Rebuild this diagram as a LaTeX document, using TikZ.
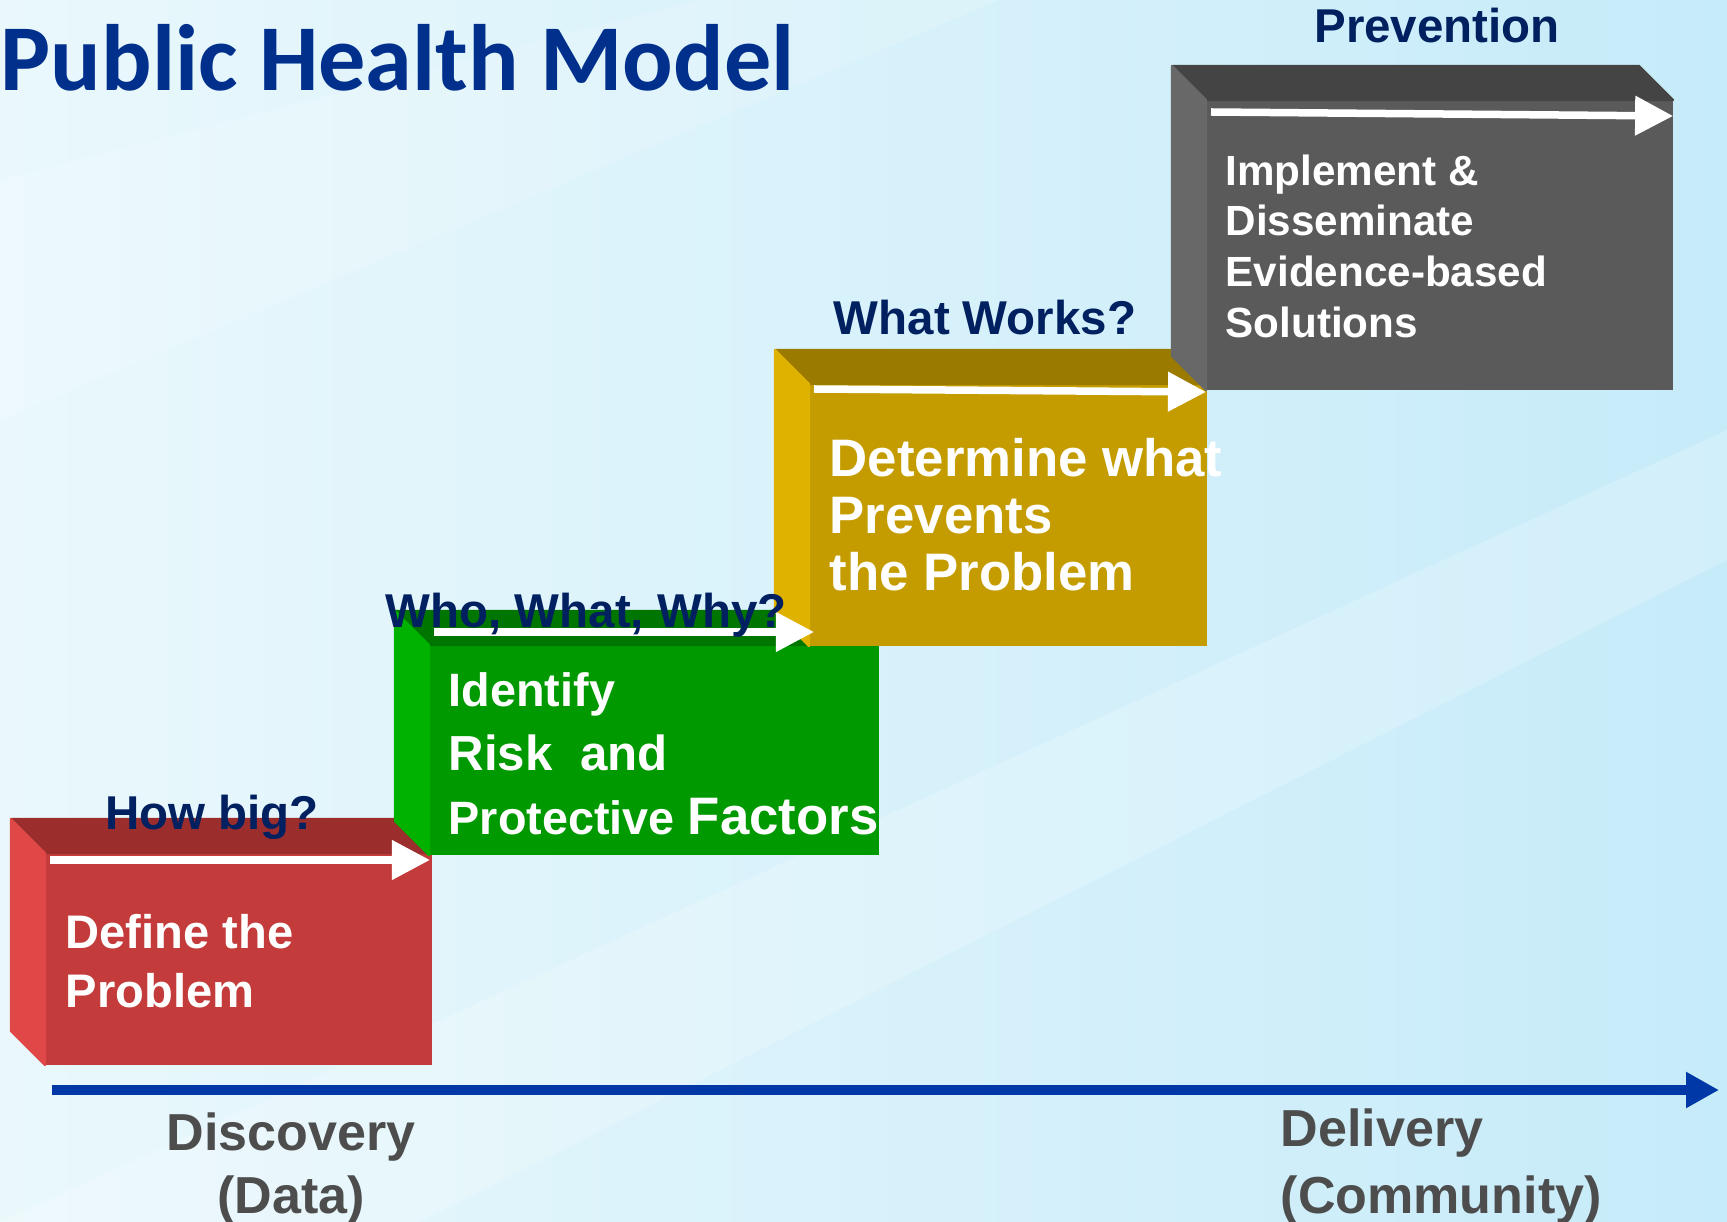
\documentclass[tikz,border=0pt]{standalone}
\usepackage{fontspec}
\setmainfont{Liberation Sans}
\newfontfamily\titlefont{Carlito}
\usetikzlibrary{positioning, calc, arrows.meta}

\definecolor{redFront}{RGB}{195,59,59}
\definecolor{redTop}{RGB}{155,45,45}
\definecolor{redSide}{RGB}{224,72,72}
\definecolor{greenFront}{RGB}{0,153,0}
\definecolor{greenTop}{RGB}{0,118,0}
\definecolor{greenSide}{RGB}{0,178,0}
\definecolor{goldFront}{RGB}{196,156,0}
\definecolor{goldTop}{RGB}{155,122,0}
\definecolor{goldSide}{RGB}{224,178,0}
\definecolor{grayFront}{RGB}{90,90,90}
\definecolor{grayTop}{RGB}{68,68,68}
\definecolor{graySide}{RGB}{104,104,104}
\definecolor{navyText}{RGB}{0,32,96}
\definecolor{titleBlue}{RGB}{0,48,140}
\definecolor{axisBlue}{RGB}{0,56,168}
\definecolor{greyText}{RGB}{77,77,77}
\definecolor{bgLight}{RGB}{234,248,252}
\definecolor{bgMid}{RGB}{218,242,251}
\definecolor{bgDark}{RGB}{198,235,249}

\begin{document}
\begin{tikzpicture}[x=0.01cm, y=-0.01cm,
  stepface/.style={inner sep=0pt, anchor=north west, line width=0.6pt},
  steptext/.style={inner sep=0pt, anchor=north west, align=left, text=white},
  question/.style={inner sep=0pt, anchor=base, text=navyText, font=\bfseries\fontsize{13.5}{16}\selectfont},
  stagetext/.style={inner sep=0pt, text=greyText},
  whitearrow/.style={white, line width=0.075cm, -{Triangle[length=0.38cm, width=0.38cm]}}]
  \newcommand\boxdepth{34}

  \useasboundingbox (0,0) rectangle (1727,1222);
  \shade[left color=bgLight, middle color=bgMid, right color=bgDark] (0,0) rectangle (1727,1222);
  \fill[white, opacity=0.2] (0,1222) -- (420,1222) -- (1727,560) -- (1727,430) -- cycle;
  \fill[white, opacity=0.15] (0,420) -- (0,180) -- (700,0) -- (1000,0) -- cycle;

  \node[inner sep=0pt, anchor=base west, text=titleBlue, font=\titlefont\bfseries\fontsize{26.8}{30}\selectfont] (title) at (0,91) {Public Health Model};

  % the four steps
  \foreach \nm/\xl/\yt/\xr/\yb in {red/45/853/430/1063, green/429/645/877/853, gold/809/384/1205/644, gray/1206/100/1671/388}{
    \node[stepface, fill=\nm Front, draw=\nm Front, minimum width={(\xr-\xl)*0.01cm}, minimum height={(\yb-\yt)*0.01cm}] at (\xl,\yt) (box\nm) {};
    \filldraw[fill=\nm Top, draw=\nm Top, line width=0.6pt, line join=round] (box\nm.north west) -- ++(-\boxdepth,-\boxdepth) -- ($(box\nm.north east)+(-\boxdepth,-\boxdepth)$) -- (box\nm.north east) -- cycle;
    \filldraw[fill=\nm Side, draw=\nm Side, line width=0.6pt, line join=round] (box\nm.north west) -- ++(-\boxdepth,-\boxdepth) -- ($(box\nm.south west)+(-\boxdepth,-\boxdepth)$) -- (box\nm.south west) -- cycle;
  }

  \foreach \nm/\ya/\tip/\dx/\dy in {red/7/boxgreen.north west/1/0, green/-13/boxgold.north west/5/0, gold/5/boxgray.north west/0/3, gray/12/boxgray.north east/0/4}{
    \coordinate (from\nm) at ($(box\nm.north west)+(5,\ya)$);
    \coordinate (to\nm) at ($(\tip |- from\nm)+(\dx,\dy)$);
    \draw[whitearrow] (from\nm) -- (to\nm);
  }

  \node[steptext, font=\bfseries\fontsize{13.4}{16.8}\selectfont] (txtred) at (65,914) {Define the\\Problem};
  \node[steptext, font=\bfseries\fontsize{13.3}{18.2}\selectfont] (txtgreen) at (448,672) {Identify\\{\fontsize{14}{18.2}\selectfont Risk\ \ and}\\Protective {\fontsize{15}{18.2}\selectfont Factors}};
  \node[steptext, font=\bfseries\fontsize{15}{16.2}\selectfont] (txtgold) at (829,438) {Determine what\\Prevents\\the Problem};
  \node[steptext, font=\bfseries\fontsize{12}{14.4}\selectfont] (txtgray) at (1225,154) {Implement \&\\Disseminate\\Evidence-based\\Solutions};

  \node[question] (qred) at (212,830) {How big?};
  \node[question] (qgreen) at (586,628) {Who, What, Why?};
  \node[question] (qgold) at (985,335) {What Works?};
  \node[question] (qgray) at (1437,43) {Prevention};

  % time axis
  \coordinate (axisstart) at (52,1090);
  \coordinate (axisend) at (1719,1090);
  \draw[axisBlue, line width=0.1cm, -{Triangle[length=0.33cm, width=0.34cm]}] (axisstart) -- (axisend);

  \node[stagetext, anchor=north, align=center, font=\bfseries\fontsize{14.8}{17.9}\selectfont] (discovery) at (291,1112) {Discovery\\(Data)};
  \node[stagetext, anchor=north west, align=left, font=\bfseries\fontsize{14.8}{19}\selectfont] (delivery) at (1280,1108) {Delivery\\(Community)};
\end{tikzpicture}
\end{document}
